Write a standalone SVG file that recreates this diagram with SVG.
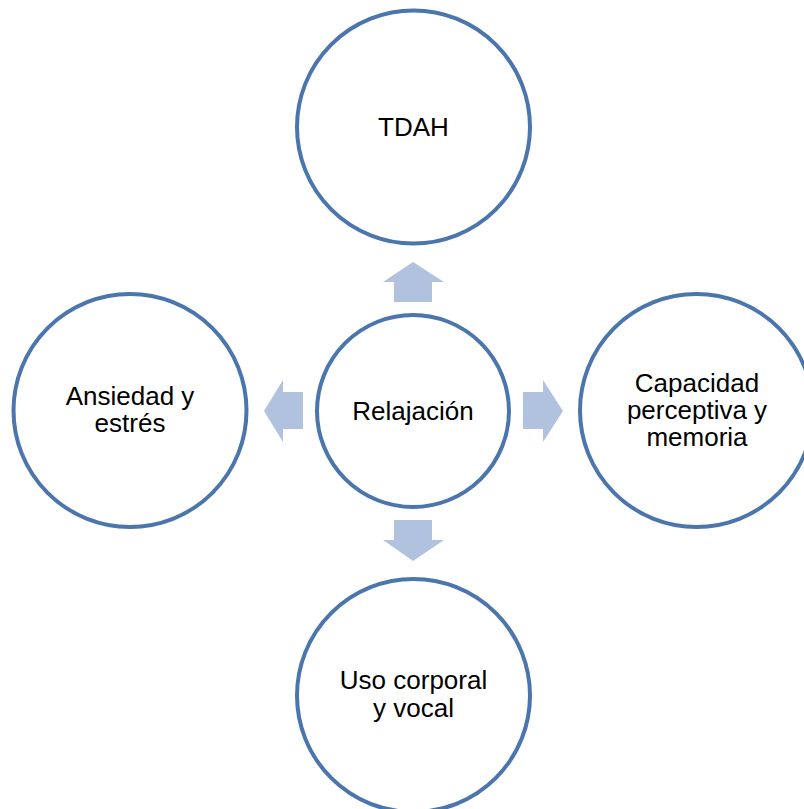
<svg xmlns="http://www.w3.org/2000/svg" width="804" height="809" viewBox="0 0 804 809">
<style>
.node circle{fill:#ffffff;stroke:#4a75ad;stroke-width:4}
.node text{font-family:"Liberation Sans",Arial,sans-serif;font-size:26px;fill:#000000;text-anchor:middle}
.arrow{fill:#b1c2de}
</style>
<rect width="804" height="809" fill="#ffffff"/>
<g id="connectors">
<polygon class="arrow" points="413,262 444,282 432,282 432,302 394,302 394,282 383,282"/>
<polygon class="arrow" points="264,411 283,380 283,392 303,392 303,429 283,429 283,442"/>
<polygon class="arrow" points="563,411 543,380 543,392 523,392 523,429 543,429 543,442"/>
<polygon class="arrow" points="413,561 444,540 432,540 432,520 394,520 394,540 383,540"/>
</g>
<g id="node-center" class="node">
<circle cx="413" cy="411" r="96"/>
<text x="413" y="419.5">Relajación</text>
</g>
<g id="node-top" class="node">
<circle cx="413.5" cy="127" r="116.5"/>
<text x="413.5" y="135.5">TDAH</text>
</g>
<g id="node-left" class="node">
<circle cx="130" cy="410.5" r="116.5"/>
<text x="130" y="405">Ansiedad y</text>
<text x="130" y="432">estrés</text>
</g>
<g id="node-right" class="node">
<circle cx="696.5" cy="410.5" r="116.5"/>
<text x="697" y="391.5">Capacidad</text>
<text x="697" y="418.5">perceptiva y</text>
<text x="697" y="446">memoria</text>
</g>
<g id="node-bottom" class="node">
<circle cx="413.5" cy="695.5" r="116.5"/>
<text x="413.5" y="689">Uso corporal</text>
<text x="413.5" y="716.5">y vocal</text>
</g>
</svg>
